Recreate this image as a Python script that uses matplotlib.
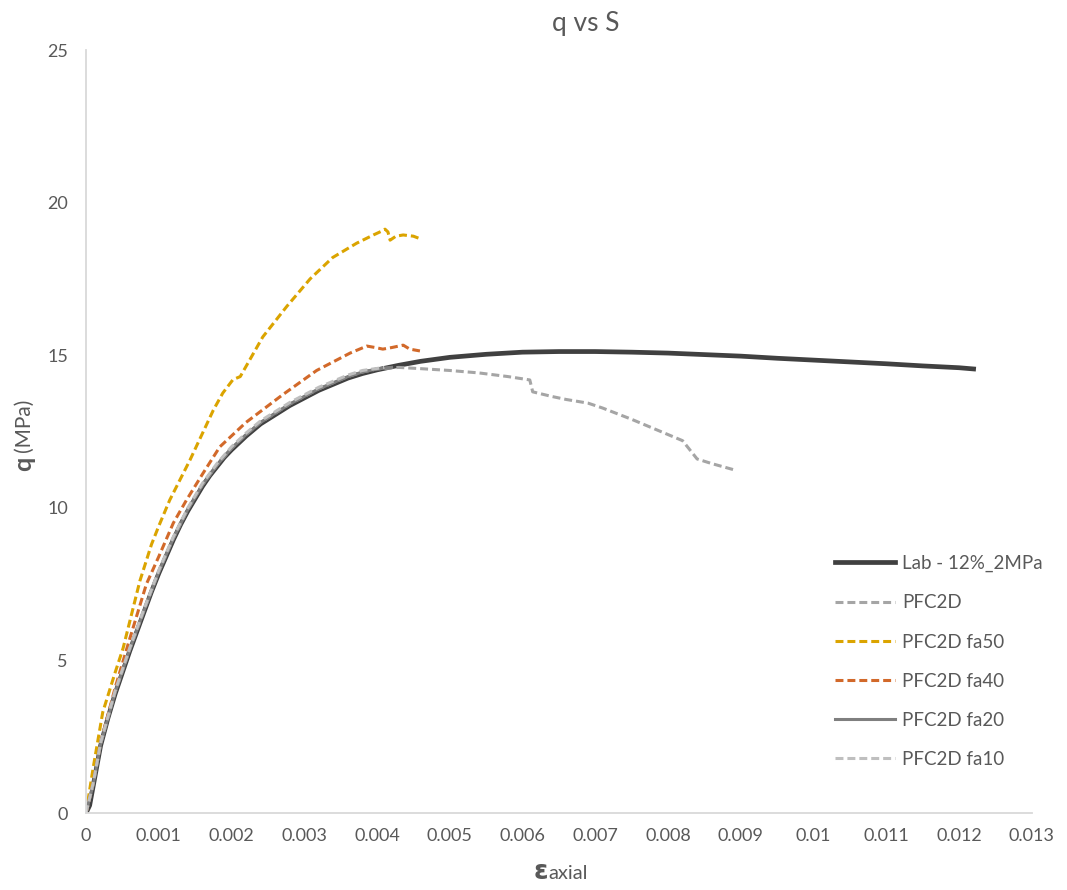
import matplotlib
matplotlib.use('Agg')
import matplotlib.pyplot as plt

plt.rcParams['font.family'] = ['Lato', 'DejaVu Sans']

# lab test, 12% cement, 2 MPa confinement
lab_strain = [0, 0.00005, 0.0001, 0.0002, 0.0003, 0.0004, 0.0005, 0.0006, 0.0007, 0.0008,
              0.0009, 0.001, 0.0011, 0.0012, 0.0013, 0.0014, 0.0015, 0.0016, 0.0017, 0.0018,
              0.0019, 0.002, 0.0022, 0.0024, 0.0026, 0.0028, 0.003, 0.0032, 0.0034, 0.0036,
              0.0038, 0.004, 0.0043, 0.0046, 0.005, 0.0055, 0.006, 0.0065, 0.007, 0.0075,
              0.008, 0.0085, 0.009, 0.0095, 0.01, 0.0105, 0.011, 0.0115, 0.012, 0.0122]
lab_q = [0, 0.25, 0.9, 2.2, 3.1, 3.9, 4.6, 5.3, 5.95, 6.6,
         7.25, 7.85, 8.4, 8.95, 9.45, 9.9, 10.3, 10.7, 11.05, 11.35,
         11.65, 11.9, 12.35, 12.75, 13.05, 13.35, 13.6, 13.85, 14.05, 14.25,
         14.4, 14.52, 14.67, 14.8, 14.93, 15.03, 15.1, 15.12, 15.12, 15.1,
         15.07, 15.02, 14.97, 14.9, 14.84, 14.78, 14.72, 14.65, 14.59, 14.55]

pfc_strain = [0, 0.0001, 0.0002, 0.0004, 0.0006, 0.0008, 0.001, 0.0012, 0.0014, 0.0016,
              0.0018, 0.002, 0.0022, 0.0024, 0.0026, 0.0028, 0.003, 0.0032, 0.0034, 0.0036,
              0.0038, 0.004, 0.0043, 0.0046, 0.005, 0.0054, 0.0058, 0.0061, 0.00614, 0.0064,
              0.0066, 0.0069, 0.0071, 0.0075, 0.0079, 0.0082, 0.0084, 0.0086, 0.0089]
pfc_q = [0, 0.95, 2.25, 3.95, 5.35, 6.65, 7.9, 9.0, 9.95, 10.75,
         11.4, 11.95, 12.4, 12.8, 13.1, 13.4, 13.65, 13.9, 14.1, 14.3,
         14.45, 14.55, 14.6, 14.56, 14.5, 14.42, 14.3, 14.19, 13.8, 13.65,
         13.55, 13.43, 13.27, 12.9, 12.5, 12.2, 11.6, 11.45, 11.25]

fa50_strain = [0, 0.0001, 0.00023, 0.0004, 0.00051, 0.00074, 0.0009, 0.001, 0.00115, 0.00143,
               0.00175, 0.00188, 0.00202, 0.00212, 0.00243, 0.00276, 0.00308, 0.00339, 0.00372, 0.00395,
               0.00405, 0.00411, 0.00415, 0.00418, 0.00426, 0.00436, 0.0045, 0.00461]
fa50_q = [0, 1.5, 3.3, 4.6, 5.4, 7.6, 8.8, 9.4, 10.25, 11.57,
          13.2, 13.76, 14.2, 14.3, 15.6, 16.6, 17.5, 18.2, 18.67, 18.94,
          19.05, 19.13, 19.04, 18.77, 18.9, 18.94, 18.9, 18.8]

fa40_strain = [0, 0.0001, 0.0002, 0.0004, 0.0006, 0.00083, 0.001, 0.0012, 0.00138, 0.0016,
               0.00184, 0.0022, 0.0027, 0.00317, 0.00363, 0.00386, 0.00398, 0.00408, 0.0042, 0.00436,
               0.00445, 0.00459]
fa40_q = [0, 1.0, 2.3, 4.1, 5.7, 7.5, 8.4, 9.5, 10.25, 11.1,
          12.0, 12.8, 13.7, 14.5, 15.07, 15.3, 15.25, 15.2, 15.25, 15.33,
          15.2, 15.14]

fa20_strain = [0, 0.0001, 0.0002, 0.0004, 0.0006, 0.0008, 0.001, 0.0012, 0.0014, 0.0016,
               0.0018, 0.002, 0.0022, 0.0024, 0.0026, 0.0028, 0.003, 0.0032, 0.0034, 0.0036,
               0.0038, 0.004, 0.0042]
fa20_q = [0, 0.95, 2.25, 3.95, 5.35, 6.65, 7.9, 9.0, 9.95, 10.75,
          11.4, 11.95, 12.4, 12.8, 13.1, 13.4, 13.65, 13.9, 14.1, 14.3,
          14.45, 14.55, 14.6]

fa10_strain = [0, 0.0001, 0.0002, 0.0004, 0.0006, 0.0008, 0.001, 0.0012, 0.0014, 0.0016,
               0.0018, 0.002, 0.0022, 0.0024, 0.0026, 0.0028, 0.003, 0.0032, 0.0034, 0.0036,
               0.0038, 0.0041]
fa10_q = [0, 1.0, 2.3, 4.0, 5.4, 6.7, 7.95, 9.05, 10.0, 10.8,
          11.45, 12.0, 12.45, 12.85, 13.15, 13.45, 13.7, 13.95, 14.15, 14.35,
          14.5, 14.6]

x_ticks = [0, 0.001, 0.002, 0.003, 0.004, 0.005, 0.006, 0.007, 0.008, 0.009, 0.01, 0.011, 0.012, 0.013]
x_labels = ['0', '0.001', '0.002', '0.003', '0.004', '0.005', '0.006', '0.007',
            '0.008', '0.009', '0.01', '0.011', '0.012', '0.013']
y_ticks = [0, 5, 10, 15, 20, 25]

dash = (0, (2.6, 1.3))
txt = '#595959'

fig = plt.figure(figsize=(10.67, 8.9), dpi=100)
ax = fig.add_axes([0.0806, 0.0865, 0.8864, 0.8573])

ax.plot(lab_strain, lab_q, color='#404040', lw=3.4, label='Lab - 12%_2MPa')
ax.plot(pfc_strain, pfc_q, color='#A5A5A5', lw=2.2, ls=dash, label='PFC2D')
ax.plot(fa50_strain, fa50_q, color='#DBA400', lw=2.2, ls=dash, label='PFC2D fa50')
ax.plot(fa40_strain, fa40_q, color='#D2692A', lw=2.2, ls=dash, label='PFC2D fa40')
ax.plot(fa20_strain, fa20_q, color='#7F7F7F', lw=2.2, label='PFC2D fa20')
ax.plot(fa10_strain, fa10_q, color='#BFBFBF', lw=2.2, ls=dash, label='PFC2D fa10')

ax.set_xlim(0, 0.013)
ax.set_ylim(0, 25)
ax.set_xticks(x_ticks)
ax.set_xticklabels(x_labels)
ax.set_yticks(y_ticks)
ax.tick_params(length=0, labelsize=13, labelcolor=txt)
ax.tick_params(axis='x', pad=11)
ax.tick_params(axis='y', pad=13)
for s in ['top', 'right']:
    ax.spines[s].set_visible(False)
for s in ['left', 'bottom']:
    ax.spines[s].set_color('#D9D9D9')
    ax.spines[s].set_linewidth(1.3)

fig.text(0.549, 0.974, 'q vs S', ha='center', va='center', fontsize=19, color=txt)

# axis titles: bold symbol + regular text
fig.text(0.5136, 0.0125, '\u03b5', ha='right', va='baseline', fontsize=19,
         fontweight='bold', color=txt, family=['DejaVu Sans'])
fig.text(0.5136, 0.0125, 'axial', ha='left', va='baseline', fontsize=14.5, color=txt)
fig.text(0.0225, 0.487, 'q', ha='center', va='top', rotation=90, fontsize=18,
         fontweight='bold', color=txt)
fig.text(0.0225, 0.492, '(MPa)', ha='center', va='bottom', rotation=90, fontsize=15, color=txt)

ax.legend(loc='upper left', bbox_to_anchor=(835 / 1067, (890 - 555) / 890),
          bbox_transform=fig.transFigure, frameon=False, fontsize=13.5, labelcolor=txt,
          borderpad=0, borderaxespad=0, handlelength=3.2, handletextpad=0.4,
          labelspacing=1.18)

fig.savefig('out.png', dpi=100)
